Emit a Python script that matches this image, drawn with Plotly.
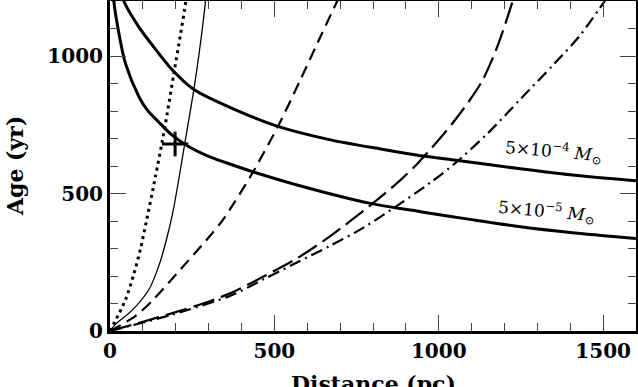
import plotly.graph_objects as go

# distance (pc) / age (yr)
mass_hi_d = [36, 42, 88, 138, 189, 255, 382, 508, 671, 823, 954, 1046, 1248, 1400, 1600]
mass_hi_t = [1230, 1200, 1105, 1025, 950, 878, 804, 745, 695, 662, 636, 622, 590, 568, 546]
mass_lo_d = [9, 11.6, 27, 47, 88, 113, 148, 189, 240, 300, 382, 432, 569, 792, 944, 1100, 1248, 1400, 1600]
mass_lo_t = [1260, 1200, 1083, 973, 852, 804, 760, 712, 670, 635, 600, 580, 531, 464, 434, 405, 379, 358, 336]
dot_d = [0, 47, 72, 93, 110, 138, 159, 174, 194, 214, 227, 235]
dot_t = [0, 113, 205, 300, 395, 560, 690, 790, 935, 1075, 1170, 1240]
thin_d = [0, 17, 67, 118, 148, 169, 190, 209, 230, 245, 255, 270, 285, 293]
thin_t = [0, 25, 75, 150, 235, 320, 425, 550, 700, 805, 878, 1000, 1140, 1230]
dash_d = [0, 78, 130, 204, 300, 341, 377, 432, 513, 579, 640, 691, 705]
dash_t = [0, 55, 112, 210, 340, 400, 465, 572, 749, 913, 1070, 1200, 1240]
ldash_d = [0, 90, 190, 290, 380, 470, 570, 670, 790, 880, 940, 1045, 1130, 1180, 1225, 1235]
ldash_t = [0, 30, 65, 103, 145, 200, 265, 345, 455, 545, 615, 760, 905, 1040, 1200, 1240]
ddot_d = [0, 190, 370, 470, 570, 670, 770, 860, 975, 1050, 1150, 1250, 1350, 1430, 1505, 1520]
ddot_t = [0, 60, 130, 190, 250, 310, 375, 445, 540, 610, 720, 845, 970, 1075, 1200, 1225]
obj_d = [198]
obj_t = [680]
obj_err_d = [40]
obj_err_t = [45]

x_range = [0, 1600]
y_range = [0, 1200]
x_ticks = [0, 500, 1000, 1500]
y_ticks = [0, 500, 1000]
minor_step = 100
x_title = "Distance (pc)"
y_title = "Age (yr)"
label_hi = "5×10<sup>−4</sup> <i>M</i><sub>⊙</sub>"
label_lo = "5×10<sup>−5</sup> <i>M</i><sub>⊙</sub>"

FONT = "DejaVu Serif"

fig = go.Figure()

def add(d, t, width, dash):
    fig.add_trace(go.Scatter(x=d, y=t, mode="lines",
                             line=dict(color="black", width=width, dash=dash, shape="spline", smoothing=0.8),
                             showlegend=False, hoverinfo="skip"))

add(mass_hi_d, mass_hi_t, 3, "solid")
add(mass_lo_d, mass_lo_t, 3, "solid")
add(dot_d, dot_t, 3, "3px,4px")
add(thin_d, thin_t, 1.3, "solid")
add(dash_d, dash_t, 2.2, "12px,7px")
add(ldash_d, ldash_t, 2.2, "22px,7px")
add(ddot_d, ddot_t, 2.2, "12px,5px,2px,5px")

fig.add_trace(go.Scatter(
    x=obj_d, y=obj_t, mode="markers", marker=dict(size=1, color="black"),
    error_x=dict(type="data", array=obj_err_d, width=0, thickness=3, color="black"),
    error_y=dict(type="data", array=obj_err_t, width=0, thickness=3, color="black"),
    showlegend=False, hoverinfo="skip"))

# invisible anchors so the extra tick-only axes are drawn
for n in (2, 3, 4):
    fig.add_trace(go.Scatter(x=[x_range[0]], y=[y_range[0]], xaxis=f"x{n}", yaxis=f"y{n}", mode="markers",
                             marker=dict(size=0.1, opacity=0), showlegend=False, hoverinfo="skip"))

fig.add_annotation(x=1348, y=651, text=label_hi, showarrow=False, textangle=5,
                   font=dict(family=FONT, size=17, color="black"))
fig.add_annotation(x=1328, y=433, text=label_lo, showarrow=False, textangle=5,
                   font=dict(family=FONT, size=17, color="black"))

titlefont = dict(family=FONT, size=22, color="black", weight="bold")
fig.add_annotation(xref="paper", yref="paper", x=0.5, y=0, yanchor="top", yshift=-38,
                   text=x_title, showarrow=False, font=titlefont)
fig.add_annotation(xref="paper", yref="paper", x=0, y=0.5, xanchor="center", xshift=-95,
                   text=y_title, textangle=-90, showarrow=False, font=titlefont)

tickfont = dict(family=FONT, size=20, color="black", weight="bold")

def tick_axis(rng, over, side, step, length):
    return dict(range=rng, overlaying=over, side=side, tickmode="linear", tick0=0, dtick=step,
                ticks="inside", ticklen=length, showticklabels=False,
                showline=False, showgrid=False, zeroline=False)

fig.update_layout(
    template="none",
    width=638, height=387,
    margin=dict(l=109.5, r=2.4, t=1, b=56),
    plot_bgcolor="white", paper_bgcolor="white",
    xaxis=dict(range=x_range, tickmode="linear", tick0=x_ticks[0], dtick=x_ticks[1] - x_ticks[0],
               showline=True, linecolor="black", linewidth=3, mirror=True,
               ticks="inside", ticklen=16,
               showgrid=False, zeroline=False, tickfont=tickfont, automargin=False),
    yaxis=dict(range=y_range, tickmode="linear", tick0=y_ticks[0], dtick=y_ticks[1] - y_ticks[0],
               showline=True, linecolor="black", linewidth=3, mirror=True,
               ticks="inside", ticklen=16,
               showgrid=False, zeroline=False, tickfont=tickfont, automargin=False),
    xaxis2=tick_axis(x_range, "x", "top", x_ticks[1] - x_ticks[0], 16),
    yaxis2=tick_axis(y_range, "y", "right", y_ticks[1] - y_ticks[0], 16),
    xaxis3=tick_axis(x_range, "x", "bottom", minor_step, 8),
    yaxis3=tick_axis(y_range, "y", "left", minor_step, 8),
    xaxis4=tick_axis(x_range, "x", "top", minor_step, 8),
    yaxis4=tick_axis(y_range, "y", "right", minor_step, 8),
)

fig.write_html("out.html", post_script="document.body.style.margin='0';",
               config={"displayModeBar": False})
